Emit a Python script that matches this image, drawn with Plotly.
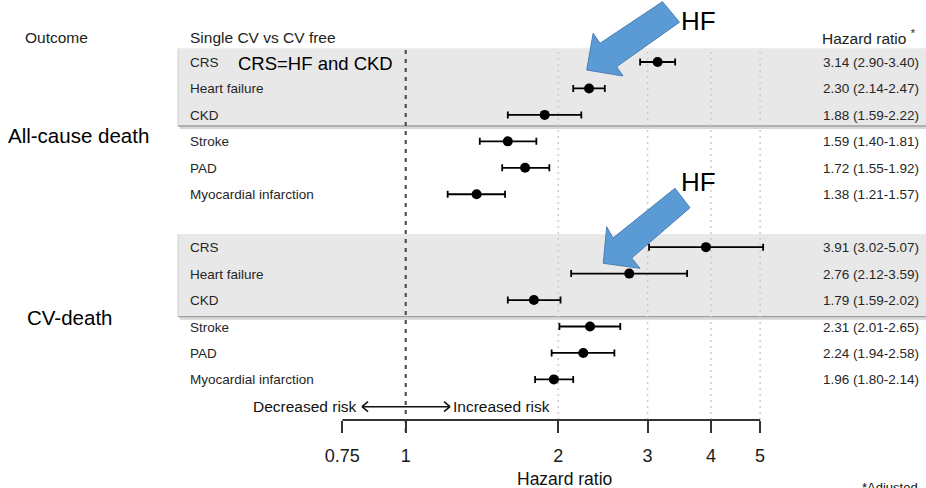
import math
import plotly.graph_objects as go

# ---- data -----------------------------------------------------------------
outcomes = ["All-cause death", "CV-death"]
conditions = ["CRS", "Heart failure", "CKD", "Stroke", "PAD", "Myocardial infarction"]

hr_all = [3.14, 2.30, 1.88, 1.59, 1.72, 1.38]
lo_all = [2.90, 2.14, 1.59, 1.40, 1.55, 1.21]
hi_all = [3.40, 2.47, 2.22, 1.81, 1.92, 1.57]

hr_cv = [3.91, 2.76, 1.79, 2.31, 2.24, 1.96]
lo_cv = [3.02, 2.12, 1.59, 2.01, 1.94, 1.80]
hi_cv = [5.07, 3.59, 2.02, 2.65, 2.58, 2.14]

tick_vals = [0.75, 1, 2, 3, 4, 5]
tick_text = ["0.75", "1", "2", "3", "4", "5"]
grid_vals = [2, 3, 4, 5]

# ---- layout helpers -------------------------------------------------------
W, H = 926, 488
AXIS_Y = 420          # pixel row of the x axis (bottom of plot area)
ROW0, ROW_STEP = 62.0, 26.45
FONT = "Liberation Sans, Arial, sans-serif"
INK = "#222222"
PAD = 2               # annotation inner padding in px


def px(x):
    return x / W


def py(y):
    return (AXIS_Y - y) / AXIS_Y


rows_all = list(range(0, 6))
rows_cv = list(range(7, 13))
rows = rows_all + rows_cv
hr = hr_all + hr_cv
lo = lo_all + lo_cv
hi = hi_all + hi_cv
labels = conditions + conditions

fig = go.Figure()

fig.add_trace(go.Scatter(
    x=hr, y=rows, mode="markers",
    marker=dict(color="black", size=10),
    error_x=dict(type="data", symmetric=False,
                 array=[h - m for h, m in zip(hi, hr)],
                 arrayminus=[m - l for m, l in zip(hr, lo)],
                 color="black", thickness=1.8, width=3.5),
    hoverinfo="skip", showlegend=False,
))

shapes = []

# grey bands behind the CRS / HF / CKD rows, with a soft bottom shadow
for top, bot in [(48.3, 126.0), (234.0, 316.7)]:
    shapes.append(dict(type="rect", xref="paper", yref="paper",
                       x0=px(178), x1=1, y0=py(bot), y1=py(top),
                       fillcolor="#e8e8e8", line=dict(width=0), layer="below"))
    shapes.append(dict(type="line", xref="paper", yref="paper",
                       x0=px(180), x1=1, y0=py(bot + 1.8), y1=py(bot + 1.8),
                       line=dict(color="#d6d6d6", width=2.5), layer="below"))
    shapes.append(dict(type="line", xref="paper", yref="paper",
                       x0=px(178), x1=1, y0=py(bot), y1=py(bot),
                       line=dict(color="#9c9c9c", width=1.3), layer="below"))
    shapes.append(dict(type="line", xref="paper", yref="paper",
                       x0=px(178), x1=px(178), y0=py(bot), y1=py(top),
                       line=dict(color="#d2d2d2", width=1), layer="below"))

# dotted gridlines
for v in grid_vals:
    shapes.append(dict(type="line", xref="x", yref="paper",
                       x0=v, x1=v, y0=0, y1=py(48.3),
                       line=dict(color="#cccccc", width=1.5, dash="2px,4px"),
                       layer="below"))

# reference line at HR = 1
shapes.append(dict(type="line", xref="x", yref="paper",
                   x0=1, x1=1, y0=py(432), y1=py(50),
                   line=dict(color="#444444", width=2, dash="4px,5px"),
                   layer="below"))

# x axis line from first to last tick
shapes.append(dict(type="line", xref="x", yref="paper",
                   x0=tick_vals[0], x1=tick_vals[-1], y0=0, y1=0,
                   line=dict(color="#333333", width=2), layer="above"))

# decreased / increased risk double arrow
ay = 406.7
for seg in [((362, ay), (450, ay)),
            ((362, ay), (368, ay - 5)), ((362, ay), (368, ay + 5)),
            ((450, ay), (444, ay - 5)), ((450, ay), (444, ay + 5))]:
    (xa, ya), (xb, yb) = seg
    shapes.append(dict(type="line", xref="paper", yref="paper",
                       x0=px(xa), x1=px(xb), y0=py(ya), y1=py(yb),
                       line=dict(color="#111111", width=1.5), layer="above"))


def block_arrow(points):
    d = "M " + " L ".join(f"{px(x):.5f},{py(y):.5f}" for x, y in points) + " Z"
    return dict(type="path", xref="paper", yref="paper", path=d,
                fillcolor="#5b9bd5", line=dict(color="#4a7fb5", width=1),
                layer="above")


shapes.append(block_arrow([(662.5, 1.7), (679.5, 22.2), (616.7, 66.7),
                           (623.0, 76.0), (586.7, 70.0), (593.2, 33.2),
                           (600.0, 43.3)]))
shapes.append(block_arrow([(675.0, 188.3), (690.0, 207.7), (631.7, 258.0),
                           (640.0, 268.3), (603.3, 263.3), (606.7, 226.7),
                           (613.0, 238.0)]))

annotations = []


def text(x, y, s, size, xanchor="left", color=INK, yanchor="middle"):
    shift = {"left": -PAD, "right": PAD, "center": 0}[xanchor]
    annotations.append(dict(x=px(x + shift), y=py(y), xref="paper", yref="paper",
                            text=s, showarrow=False, xanchor=xanchor,
                            yanchor=yanchor,
                            font=dict(family=FONT, size=size, color=color)))


# column headers
text(25, 37, "Outcome", 15.5)
text(190, 37, "Single CV vs CV free", 15.5)
text(822, 37, "Hazard ratio <sup>*</sup>", 15.5)

# row labels and HR (95% CI) column
for i, lab, h, l, u in zip(rows, labels, hr, lo, hi):
    y = ROW0 + ROW_STEP * i + 0.5
    text(190, y, lab, 13.5, color="#262626")
    text(823, y, f"{h:.2f} ({l:.2f}-{u:.2f})", 13.5, color="#262626")

# outcome group labels
text(8, 135, outcomes[0], 20.5, color="black")
text(27, 317, outcomes[1], 20.5, color="black")

# callouts
text(238, 63, "CRS=HF and CKD", 18.5, color="black")
text(681, 21, "HF", 26, color="black")
text(681, 182, "HF", 26, color="black")

# risk direction labels
text(357, ay, "Decreased risk", 15.5, xanchor="right", color="#111111")
text(453, ay, "Increased risk", 15.5, color="#111111")

# axis title and footnote
text(564, 479, "Hazard ratio", 17.5, xanchor="center", color="#111111")
text(862, 478, "*Adjusted", 13, yanchor="top", color="#111111")

fig.update_layout(
    width=W, height=H, autosize=False,
    margin=dict(l=0, r=0, t=0, b=H - AXIS_Y, pad=0),
    paper_bgcolor="white", plot_bgcolor="rgba(0,0,0,0)",
    showlegend=False,
    shapes=shapes, annotations=annotations,
    xaxis=dict(type="log",
               range=[-405.7 / 507, (W - 405.7) / 507],
               tickvals=tick_vals, ticktext=tick_text,
               ticks="outside", ticklen=12, tickwidth=2, tickcolor="#333333",
               tickfont=dict(family=FONT, size=18, color="#1a1a1a"),
               ticklabelstandoff=7,
               showline=False, showgrid=False, zeroline=False,
               automargin=False, fixedrange=True),
    yaxis=dict(range=[(AXIS_Y - ROW0) / ROW_STEP, -ROW0 / ROW_STEP],
               visible=False, automargin=False, fixedrange=True),
)

fig.write_html("out.html")
